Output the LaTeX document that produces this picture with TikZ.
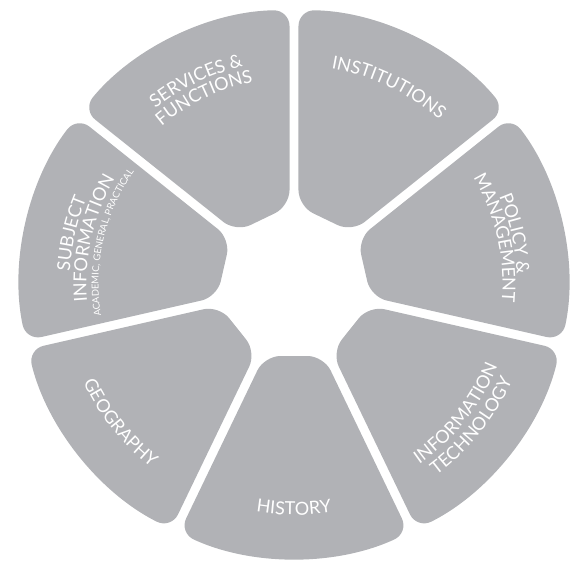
\documentclass[tikz,border=0pt]{standalone}
\usepackage{fontspec}
\setmainfont{Lato}
\usetikzlibrary{decorations.text}
\definecolor{segfill}{RGB}{177,178,182}
\newcommand{\segfont}{\fontsize{18}{18}\selectfont\color{white}}
\newcommand{\smallsegfont}{\fontsize{9.5}{9.5}\selectfont\color{white}}
\tikzset{
	segment/.style={fill=segfill, rounded corners=16pt},
	seglabel/.style={decorate, decoration={text along path, text align=center, text={|\segfont|#1}}},
	smalllabel/.style={decorate, decoration={text along path, text align=center, text={|\smallsegfont|#1}}}
}
\begin{document}
\begin{tikzpicture}[x=1pt,y=1pt]
			\useasboundingbox (-294,-291) rectangle (289,284);
			% History
			\fill[segment] (247.6:77.9) -- (245.23:274) arc[start angle=245.23, end angle=294.77, radius=274] -- (292.4:77.9) -- cycle;
			\path[seglabel={HISTORY}] (220:231) arc[start angle=220, end angle=320, radius=231];
			% Information Technology
			\fill[segment] (299.03:77.9) -- (296.66:274) arc[start angle=296.66, end angle=346.20, radius=274] -- (343.83:77.9) -- cycle;
			\path[seglabel={INFORMATION}] (271.43:219.5) arc[start angle=271.43, end angle=371.43, radius=219.5];
			\path[seglabel={TECHNOLOGY}] (271.43:238.5) arc[start angle=271.43, end angle=371.43, radius=238.5];
			% Policy
			\fill[segment] (-9.54:77.9) -- (-11.91:274) arc[start angle=-11.91, end angle=37.63, radius=274] -- (35.26:77.9) -- cycle;
			\path[seglabel={POLICY {\&}}] (62.86:223) arc[start angle=62.86, end angle=-37.14, radius=223];
			\path[seglabel={MANAGEMENT}] (62.86:208.5) arc[start angle=62.86, end angle=-37.14, radius=208.5];
			% Institutions
			\fill[segment] (41.89:77.9) -- (39.52:274) arc[start angle=39.52, end angle=89.06, radius=274] -- (86.69:77.9) -- cycle;
			\path[seglabel={INSTITUTIONS}] (114.29:219) arc[start angle=114.29, end angle=14.29, radius=219];
			% Services
			\fill[segment] (93.31:77.9) -- (90.94:274) arc[start angle=90.94, end angle=140.48, radius=274] -- (138.11:77.9) -- cycle;
			\path[seglabel={SERVICES {\&}}] (165.71:223.5) arc[start angle=165.71, end angle=65.71, radius=223.5];
			\path[seglabel={FUNCTIONS}] (165.71:206) arc[start angle=165.71, end angle=65.71, radius=206];
			% Subject
			\fill[segment] (144.74:77.9) -- (142.37:274) arc[start angle=142.37, end angle=191.91, radius=274] -- (189.54:77.9) -- cycle;
			\path[seglabel={SUBJECT}] (217.14:224.5) arc[start angle=217.14, end angle=117.14, radius=224.5];
			\path[seglabel={INFORMATION}] (217.14:207.5) arc[start angle=217.14, end angle=117.14, radius=207.5];
			\path[smalllabel={ACADEMIC, GENERAL, PRACTICAL}] (217.14:195.5) arc[start angle=217.14, end angle=117.14, radius=195.5];
			% Geography
			\fill[segment] (196.17:77.9) -- (193.80:274) arc[start angle=193.80, end angle=243.34, radius=274] -- (240.97:77.9) -- cycle;
			\path[seglabel={GEOGRAPHY}] (168.57:232.5) arc[start angle=168.57, end angle=268.57, radius=232.5];
\end{tikzpicture}
\end{document}
